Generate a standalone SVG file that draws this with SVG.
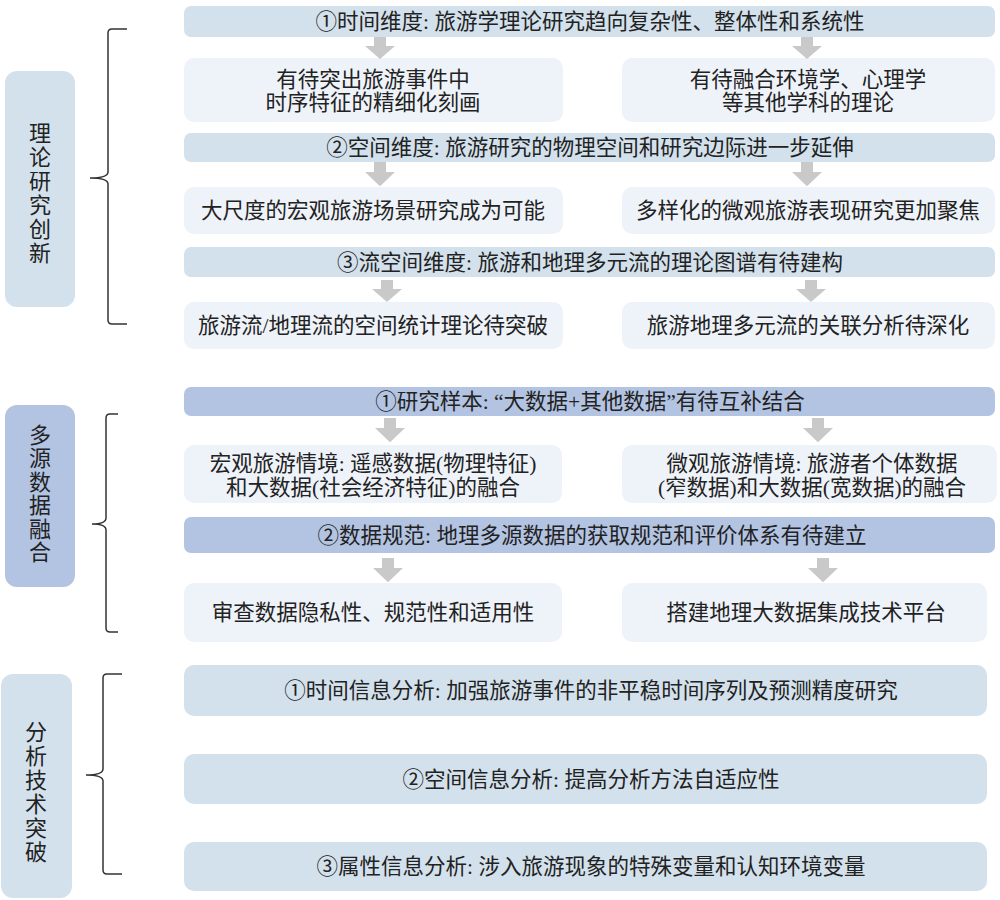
<svg xmlns="http://www.w3.org/2000/svg" width="1000" height="900" viewBox="0 0 1000 900">
<style>
text{font-family:"Liberation Serif","Noto Sans CJK SC",serif;font-size:21.5px;fill:#222;text-anchor:middle}
.lab{font-size:22px}
.hA{fill:#d3e1ec}
.hB{fill:#b3c4e3}
.sub{fill:#eef2f9}
.arr{fill:#c9c9c9}
.brace{fill:none;stroke:#333;stroke-width:1.5}
</style>
<defs>
<path id="arr" d="M-6,0 H6 V9 H15 L0,22 L-15,9 H-6 Z"/>
</defs>
<rect width="1000" height="900" fill="#fff"/>

<g id="label1"><rect x="5" y="71" width="70" height="236" rx="12" class="hA"/>
<text class="lab" x="40" y="141">理</text><text class="lab" x="40" y="165">论</text><text class="lab" x="40" y="189">研</text><text class="lab" x="40" y="213">究</text><text class="lab" x="40" y="237">创</text><text class="lab" x="40" y="261">新</text></g>

<g id="label2"><rect x="5" y="405" width="70" height="182" rx="12" class="hB"/>
<text class="lab" x="40" y="443">多</text><text class="lab" x="40" y="466">源</text><text class="lab" x="40" y="490">数</text><text class="lab" x="40" y="513">据</text><text class="lab" x="40" y="537">融</text><text class="lab" x="40" y="560">合</text></g>

<g id="label3"><rect x="1" y="674" width="71" height="224" rx="12" class="hA"/>
<text class="lab" x="36" y="740">分</text><text class="lab" x="36" y="764">析</text><text class="lab" x="36" y="788">技</text><text class="lab" x="36" y="812">术</text><text class="lab" x="36" y="836">突</text><text class="lab" x="36" y="860">破</text></g>

<g id="s1h1"><rect x="184" y="6" width="811" height="31" rx="7" class="hA"/><text x="590" y="29">①时间维度: 旅游学理论研究趋向复杂性、整体性和系统性</text></g>
<g id="s1a"><rect x="184" y="58" width="379" height="64" rx="10" class="sub"/><text x="373" y="87">有待突出旅游事件中</text><text x="373" y="110">时序特征的精细化刻画</text></g>
<g id="s1b"><rect x="622" y="58" width="373" height="64" rx="10" class="sub"/><text x="808" y="87">有待融合环境学、心理学</text><text x="808" y="110">等其他学科的理论</text></g>
<g id="s1h2"><rect x="184" y="133" width="811" height="29" rx="7" class="hA"/><text x="590" y="155">②空间维度: 旅游研究的物理空间和研究边际进一步延伸</text></g>
<g id="s1c"><rect x="184" y="187" width="379" height="47" rx="10" class="sub"/><text x="373" y="218">大尺度的宏观旅游场景研究成为可能</text></g>
<g id="s1d"><rect x="622" y="187" width="373" height="47" rx="10" class="sub"/><text x="808" y="218">多样化的微观旅游表现研究更加聚焦</text></g>
<g id="s1h3"><rect x="184" y="247" width="811" height="30" rx="7" class="hA"/><text x="590" y="269.5">③流空间维度: 旅游和地理多元流的理论图谱有待建构</text></g>
<g id="s1e"><rect x="184" y="302" width="379" height="47" rx="10" class="sub"/><text x="373" y="333">旅游流/地理流的空间统计理论待突破</text></g>
<g id="s1f"><rect x="622" y="302" width="373" height="47" rx="10" class="sub"/><text x="808" y="333">旅游地理多元流的关联分析待深化</text></g>

<g id="s2h1"><rect x="184" y="387" width="811" height="29" rx="7" class="hB"/><text x="590" y="409">①研究样本: “大数据+其他数据”有待互补结合</text></g>
<g id="s2a"><rect x="184" y="445" width="378" height="58" rx="10" class="sub"/><text x="373" y="470.5">宏观旅游情境: 遥感数据(物理特征)</text><text x="373" y="494.5">和大数据(社会经济特征)的融合</text></g>
<g id="s2b"><rect x="622" y="445" width="375" height="58" rx="10" class="sub"/><text x="812" y="470.5">微观旅游情境: 旅游者个体数据</text><text x="812" y="494.5">(窄数据)和大数据(宽数据)的融合</text></g>
<g id="s2h2"><rect x="184" y="517" width="811" height="36" rx="7" class="hB"/><text x="592" y="542.5">②数据规范: 地理多源数据的获取规范和评价体系有待建立</text></g>
<g id="s2c"><rect x="184" y="583" width="378" height="59" rx="10" class="sub"/><text x="373" y="620">审查数据隐私性、规范性和适用性</text></g>
<g id="s2d"><rect x="622" y="583" width="365" height="59" rx="10" class="sub"/><text x="806" y="620">搭建地理大数据集成技术平台</text></g>

<g id="s3a"><rect x="184" y="665" width="803" height="51" rx="10" class="hA"/><text x="591" y="698">①时间信息分析: 加强旅游事件的非平稳时间序列及预测精度研究</text></g>
<g id="s3b"><rect x="184" y="754" width="803" height="50" rx="10" class="hA"/><text x="591" y="786.5">②空间信息分析: 提高分析方法自适应性</text></g>
<g id="s3c"><rect x="184" y="842" width="803" height="49" rx="10" class="hA"/><text x="591" y="874">③属性信息分析: 涉入旅游现象的特殊变量和认知环境变量</text></g>

<g id="connectors">
<use href="#arr" class="arr" transform="translate(380,37)"/>
<use href="#arr" class="arr" transform="translate(807,37)"/>
<use href="#arr" class="arr" transform="translate(380,162) scale(1,1.1)"/>
<use href="#arr" class="arr" transform="translate(807,162) scale(1,1.1)"/>
<use href="#arr" class="arr" transform="translate(387,280)"/>
<use href="#arr" class="arr" transform="translate(811,280)"/>
<use href="#arr" class="arr" transform="translate(390,418) scale(1,1.1)"/>
<use href="#arr" class="arr" transform="translate(818,418) scale(1,1.1)"/>
<use href="#arr" class="arr" transform="translate(388,558) scale(1,1.1)"/>
<use href="#arr" class="arr" transform="translate(823,558) scale(1,1.1)"/>
<path class="brace" d="M127,29 H112 Q108,29 108,33 V172 Q108,178 90,178 Q108,178 108,184 V320 Q108,324 112,324 H127"/>
<path class="brace" d="M118,414 H110 Q106,414 106,418 V518 Q106,524 92,524 Q106,524 106,530 V628 Q106,632 110,632 H118"/>
<path class="brace" d="M122,674 H107 Q103,674 103,678 V769 Q103,775 86,775 Q103,775 103,781 V870 Q103,874 107,874 H122"/>
</g>
</svg>
